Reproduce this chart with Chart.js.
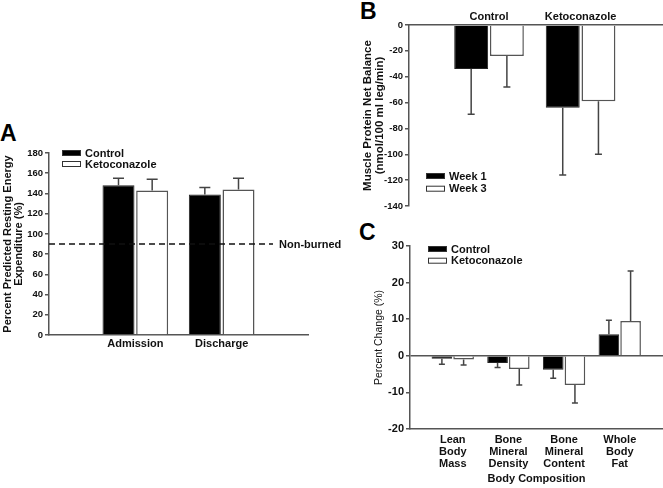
<!DOCTYPE html>
<html><head><meta charset="utf-8">
<script src="https://cdn.jsdelivr.net/npm/chart.js@4.4.1/dist/chart.umd.min.js"></script>
<style>
html,body{margin:0;padding:0;background:#fff;}
body{width:663px;height:488px;position:relative;overflow:hidden;font-family:'Liberation Sans',Arial,Helvetica,sans-serif;}
canvas{position:absolute;}
.letter{position:absolute;font-weight:bold;font-size:23px;line-height:23px;color:#000;}
</style></head><body>
<div class="letter" style="left:0px;top:122px">A</div>
<div class="letter" style="left:360px;top:0px">B</div>
<div class="letter" style="left:359px;top:221px">C</div>
<canvas id="cA" width="360" height="260" style="left:0px;top:100px"></canvas>
<canvas id="cB" width="303" height="225" style="left:360px;top:0px"></canvas>
<canvas id="cC" width="303" height="263" style="left:360px;top:225px"></canvas>
<script>
// ---------- data ----------
// Panel A
const phaseLabels = ['Admission', 'Discharge'];
const energyControl = [148, 139];
const energyControlErr = [7, 7];
const energyKeto = [143, 144];
const energyKetoErr = [11, 11];
const nonBurnedValue = 90;
const nonBurnedLabel = 'Non-burned';

// Panel B
const balanceGroups = ['Control', 'Ketoconazole'];
const balanceWeek1 = [-34, -64];
const balanceWeek1Err = [35, 52];
const balanceWeek3 = [-24, -59];
const balanceWeek3Err = [24, 41];

// Panel C
const compLabels = [['Lean', 'Body', 'Mass'], ['Bone', 'Mineral', 'Density'], ['Bone', 'Mineral', 'Content'], ['Whole', 'Body', 'Fat']];
const compControl = [-0.8, -2.0, -3.8, 5.9];
const compControlErr = [1.5, 1.2, 2.3, 3.8];
const compKeto = [-1.0, -3.6, -8.0, 9.5];
const compKetoErr = [1.5, 4.4, 4.9, 13.7];

// ---------- helpers ----------
const FONT = "'Liberation Sans', Arial, Helvetica, sans-serif";
Chart.defaults.font.family = FONT;
Chart.defaults.color = '#111';
const AXIS = '#555';
const xy = (vals) => vals.map((v, i) => ({ x: i + 1, y: v }));

const errorBarPlugin = {
  id: 'errorBars',
  afterDatasetsDraw(chart, args, o) {
    const ctx = chart.ctx, ys = chart.scales.y;
    chart.data.datasets.forEach((ds, di) => {
      if (!ds.errors) return;
      const meta = chart.getDatasetMeta(di);
      meta.data.forEach((bar, j) => {
        const v = ds.data[j].y, e = ds.errors[j];
        const dir = v < 0 ? -1 : 1;
        const y1 = ys.getPixelForValue(v), y2 = ys.getPixelForValue(v + dir * e);
        ctx.save();
        ctx.strokeStyle = o.color || '#444';
        ctx.lineWidth = o.width || 1.5;
        ctx.beginPath();
        ctx.moveTo(bar.x, y1); ctx.lineTo(bar.x, y2);
        ctx.moveTo(bar.x - o.cap / 2, y2); ctx.lineTo(bar.x + o.cap / 2, y2);
        ctx.stroke();
        ctx.restore();
      });
    });
  }
};

const boxLegendPlugin = {
  id: 'boxLegend',
  afterDraw(chart, args, o) {
    const ctx = chart.ctx, a = chart.chartArea;
    ctx.save();
    ctx.font = 'bold 11px ' + FONT;
    ctx.textBaseline = 'middle';
    ctx.textAlign = 'left';
    chart.data.datasets.forEach((ds, i) => {
      const x = a.left + o.dx, y = a.top + o.dy + i * o.rowH;
      ctx.fillStyle = ds.backgroundColor;
      ctx.fillRect(x, y - 3, 19, 6);
      ctx.strokeStyle = '#333';
      ctx.lineWidth = 1;
      ctx.strokeRect(x + 0.5, y - 2.5, 18, 5);
      ctx.fillStyle = '#111';
      ctx.fillText(ds.label, x + 23, y + 0.5);
    });
    ctx.restore();
  }
};

const refLinePlugin = {
  id: 'refLine',
  afterDatasetsDraw(chart, args, o) {
    if (o.value == null) return;
    const ctx = chart.ctx, a = chart.chartArea;
    const y = chart.scales.y.getPixelForValue(o.value);
    const labelX = a.right + o.labelDx;
    ctx.save();
    ctx.setLineDash([6, 4]);
    ctx.strokeStyle = '#111';
    ctx.lineWidth = 1.5;
    ctx.beginPath(); ctx.moveTo(a.left, y); ctx.lineTo(labelX - 6, y); ctx.stroke();
    ctx.setLineDash([]);
    ctx.font = 'bold 11px ' + FONT;
    ctx.textBaseline = 'middle';
    ctx.fillStyle = '#111';
    ctx.fillText(o.label, labelX, y + 0.5);
    ctx.restore();
  }
};

function barDs(label, vals, errs, dark) {
  return {
    label, data: xy(vals), errors: errs,
    backgroundColor: dark ? '#000' : '#fff',
    borderColor: dark ? '#222' : AXIS,
    borderWidth: dark ? 1 : 1.5,
    categoryPercentage: 0.78, barPercentage: 0.95
  };
}

function yAxis(min, max, step, title, width, tickSize, titleFont, titlePad, grid) {
  return {
    min, max,
    ticks: { stepSize: step, color: '#111', font: { size: tickSize, weight: 'bold' }, padding: 2 },
    grid: grid || { drawOnChartArea: false, drawTicks: true, tickLength: 4, tickColor: AXIS, color: AXIS, lineWidth: 1.5 },
    border: { display: true, color: AXIS, width: 1.5 },
    title: { display: true, text: title, color: '#111', font: titleFont, padding: { top: titlePad, bottom: 0 } },
    afterFit(s) { s.width = width; }
  };
}

function xAxis(labels, min, max, height, position, pad, extra) {
  return Object.assign({
    type: 'linear', min, max, position, offset: false,
    afterBuildTicks(s) { s.ticks = labels.map((_, i) => ({ value: i + 1 })); },
    ticks: { callback: (v) => labels[v - 1] ?? '', autoSkip: false, maxRotation: 0, minRotation: 0,
             color: '#111', font: { size: 11, weight: 'bold', lineHeight: 1.1 }, padding: pad },
    grid: { display: false, drawTicks: false, offset: false },
    border: { display: true, color: AXIS, width: 1.5 },
    afterFit(s) { s.height = height; }
  }, extra || {});
}

const common = {
  responsive: false, animation: false, devicePixelRatio: 1,
  events: []
};

// ---------- Panel A ----------
new Chart(document.getElementById('cA'), {
  type: 'bar',
  data: { datasets: [
    barDs('Control', energyControl, energyControlErr, true),
    barDs('Ketoconazole', energyKeto, energyKetoErr, false)
  ] },
  options: Object.assign({}, common, {
    layout: { padding: { left: 0, top: 53, right: 52, bottom: 0 } },
    scales: {
      x: xAxis(phaseLabels, 0, 3, 25, 'bottom', 3),
      y: yAxis(0, 180, 20, ['Percent Predicted Resting Energy', 'Expenditure (%)'], 49, 9.5,
               { size: 11, weight: 'bold', lineHeight: 1 }, 2.5)
    },
    plugins: {
      legend: { display: false }, tooltip: { enabled: false },
      errorBars: { cap: 11 },
      boxLegend: { dx: 13, dy: 0, rowH: 11 },
      refLine: { value: nonBurnedValue, label: nonBurnedLabel, labelDx: -29 }
    }
  }),
  plugins: [errorBarPlugin, boxLegendPlugin, refLinePlugin]
});

// ---------- Panel B ----------
new Chart(document.getElementById('cB'), {
  type: 'bar',
  data: { datasets: [
    barDs('Week 1', balanceWeek1, balanceWeek1Err, true),
    barDs('Week 3', balanceWeek3, balanceWeek3Err, false)
  ] },
  options: Object.assign({}, common, {
    layout: { padding: { left: 0, top: 0, right: 0, bottom: 19 } },
    scales: {
      x: xAxis(balanceGroups, 0.126, 2.9, 25, 'top', 2),
      y: yAxis(-140, 0, 20, ['Muscle Protein Net Balance', '(nmol/100 ml leg/min)'], 49, 9.5,
               { size: 11.5, weight: 'bold', lineHeight: 1 }, 2.5)
    },
    plugins: {
      legend: { display: false }, tooltip: { enabled: false },
      errorBars: { cap: 7 },
      boxLegend: { dx: 17, dy: 151, rowH: 12.7 }
    }
  }),
  plugins: [errorBarPlugin, boxLegendPlugin]
});

// ---------- Panel C ----------
new Chart(document.getElementById('cC'), {
  type: 'bar',
  data: { datasets: [
    barDs('Control', compControl, compControlErr, true),
    barDs('Ketoconazole', compKeto, compKetoErr, false)
  ] },
  options: Object.assign({}, common, {
    layout: { padding: { left: 0, top: 21, right: 0, bottom: 0 } },
    scales: {
      x: xAxis(compLabels, 0.232, 4.777, 59, 'bottom', 5, {
        title: { display: true, text: 'Body Composition', color: '#111',
                 font: { size: 11, weight: 'bold', lineHeight: 1.1 }, padding: { top: 0, bottom: 3 } }
      }),
      y: yAxis(-20, 30, 10, 'Percent Change (%)', 50, 11,
               { size: 10.5, weight: 'normal', lineHeight: 1.2 }, 13,
               { drawOnChartArea: true, drawTicks: true, tickLength: 4, tickColor: AXIS, lineWidth: 1.5,
                 color: (c) => (c.tick && c.tick.value === 0) ? AXIS : 'rgba(0,0,0,0)' })
    },
    plugins: {
      legend: { display: false }, tooltip: { enabled: false },
      errorBars: { cap: 6 },
      boxLegend: { dx: 18, dy: 3, rowH: 11.7 }
    }
  }),
  plugins: [errorBarPlugin, boxLegendPlugin]
});
</script>
</body></html>
